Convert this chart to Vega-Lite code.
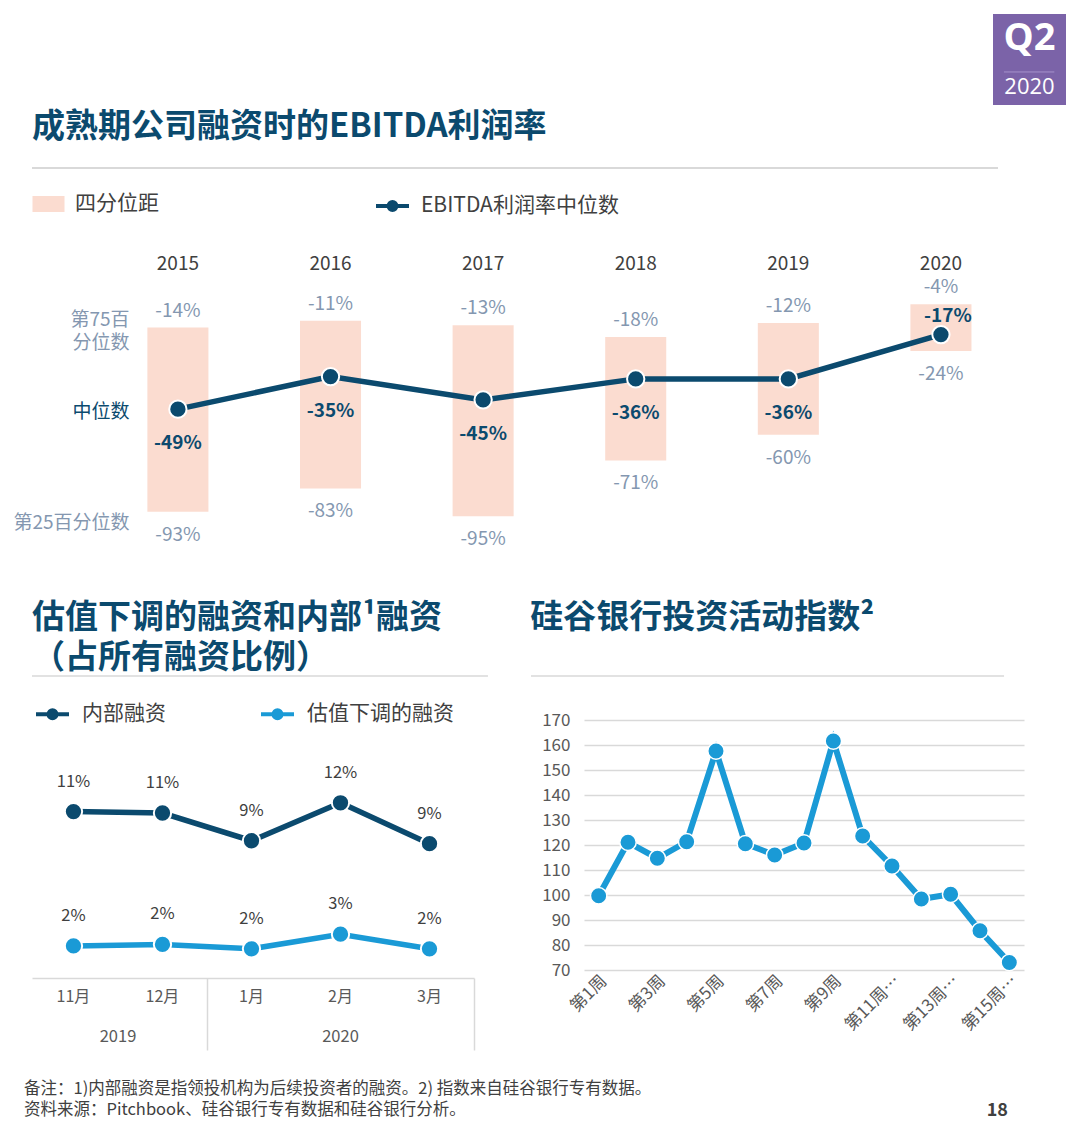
{
  "$schema": "https://vega.github.io/schema/vega-lite/v6.json",
  "background": "white",
  "padding": {"left": 12, "top": 14, "right": 0, "bottom": 0},
  "spacing": 0,
  "config": {
    "view": {"stroke": null},
    "font": "Noto Sans CJK SC",
    "locale": {"number": {"decimal": ".", "thousands": ",", "grouping": [3], "currency": ["", ""], "minus": "-"}}
  },
  "vconcat": [
    {
      "spacing": 0,
      "hconcat": [
        {"width": 961, "height": 97, "data": {"values": [{"a": 1}]}, "mark": {"type": "point", "opacity": 0}},
        {
          "width": 73,
          "height": 91,
          "view": {"fill": "#7b63a8", "stroke": null},
          "layer": [
            {
              "data": {"values": [{"a": 1}]},
              "mark": {"type": "rule", "color": "#a592cc", "strokeWidth": 1},
              "encoding": {
                "x": {"datum": 0.15, "type": "quantitative", "scale": {"domain": [0, 1]}, "axis": null},
                "x2": {"datum": 0.84},
                "y": {"datum": 0.363, "type": "quantitative", "scale": {"domain": [0, 1]}, "axis": null}
              }
            },
            {
              "data": {"values": [{"label": "Q2"}]},
              "mark": {"type": "text", "color": "white", "font": "Open Sans", "fontSize": 38, "fontWeight": "bold", "dy": -21},
              "encoding": {"text": {"field": "label"}}
            },
            {
              "data": {"values": [{"label": "2020"}]},
              "mark": {"type": "text", "color": "white", "font": "Open Sans", "fontSize": 22, "dy": 27},
              "encoding": {"text": {"field": "label"}}
            }
          ]
        }
      ]
    },
    {
      "width": 966,
      "height": 307,
      "title": {"text": "成熟期公司融资时的EBITDA利润率", "anchor": "start", "frame": "group", "fontSize": 33, "fontWeight": "bold", "color": "#0b4a6e", "offset": 23},
      "data": {
        "values": [
          {"year": "2015", "q75": -0.14, "median": -0.49, "q25": -0.93},
          {"year": "2016", "q75": -0.11, "median": -0.35, "q25": -0.83},
          {"year": "2017", "q75": -0.13, "median": -0.45, "q25": -0.95},
          {"year": "2018", "q75": -0.18, "median": -0.36, "q25": -0.71},
          {"year": "2019", "q75": -0.12, "median": -0.36, "q25": -0.60},
          {"year": "2020", "q75": -0.04, "median": -0.17, "q25": -0.24}
        ]
      },
      "layer": [
        {
          "mark": {"type": "rule", "color": "#d9d9d9", "strokeWidth": 1.5},
          "encoding": {"y": {"datum": 0.545, "type": "quantitative"}}
        },
        {
          "mark": {"type": "bar"},
          "encoding": {
            "x": {
              "field": "year", "type": "nominal", "sort": null, "title": null,
              "scale": {"type": "band", "paddingInner": 0.6, "paddingOuter": 0.465, "align": 0.813},
              "axis": {"orient": "top", "domain": false, "ticks": false, "labelFontSize": 19, "labelColor": "#404040", "labelPadding": 22, "labelAngle": 0}
            },
            "y": {
              "field": "q75", "type": "quantitative", "title": null,
              "scale": {"domain": [-1.3176, 0], "nice": false, "zero": false},
              "axis": {
                "orient": "left",
                "values": [-0.107, -0.5, -0.975],
                "labelExpr": "datum.value > -0.3 ? ['第75百', '分位数'] : (datum.value > -0.7 ? '中位数' : '第25百分位数')",
                "domain": false, "ticks": false, "tickSize": 0, "grid": false,
                "labelPadding": -97, "labelAlign": "right", "labelBaseline": "middle",
                "labelFontSize": 19, "labelLineHeight": 23,
                "labelColor": {"condition": {"test": "datum.value == -0.5", "value": "#0b4a6e"}, "value": "#8497b0"},
                "labelOverlap": false, "labelBound": false, "labelFlush": false
              }
            },
            "y2": {"field": "q25"},
            "fill": {
              "datum": "四分位距",
              "scale": {"range": ["#fbdcd0"]},
              "legend": {
                "title": null, "orient": "none", "legendX": 0, "legendY": 173.5,
                "symbolType": "M-0.97,-0.485H0.97V0.485H-0.97Z", "symbolSize": 1089, "symbolStrokeWidth": 0,
                "labelFontSize": 21, "labelColor": "#404040", "labelOffset": 10, "labelLimit": 300
              }
            }
          }
        },
        {
          "mark": {"type": "line", "strokeWidth": 5.5},
          "encoding": {
            "x": {"field": "year", "type": "nominal", "sort": null, "title": null},
            "y": {"field": "median", "type": "quantitative", "title": null},
            "stroke": {
              "datum": "EBITDA利润率中位数",
              "scale": {"range": ["#0b4a6e"]},
              "legend": {
                "title": null, "orient": "none", "legendX": 342, "legendY": 173.5,
                "symbolType": "M-1,0H1M-0.24,0A0.24,0.24 0 1,0 0.24,0A0.24,0.24 0 1,0 -0.24,0",
                "symbolSize": 1089, "symbolStrokeWidth": 4, "symbolFillColor": "#0b4a6e",
                "labelFontSize": 21, "labelColor": "#404040", "labelOffset": 10, "labelLimit": 300
              }
            }
          }
        },
        {
          "mark": {"type": "point", "filled": true, "size": 300, "color": "#0b4a6e", "stroke": "white", "strokeWidth": 2, "opacity": 1},
          "encoding": {
            "x": {"field": "year", "type": "nominal", "sort": null, "title": null},
            "y": {"field": "median", "type": "quantitative", "title": null}
          }
        },
        {
          "mark": {"type": "text", "dy": -17, "fontSize": 19, "color": "#8497b0"},
          "encoding": {
            "x": {"field": "year", "type": "nominal", "sort": null, "title": null},
            "y": {"field": "q75", "type": "quantitative", "title": null},
            "text": {"field": "q75", "format": ".0%"}
          }
        },
        {
          "mark": {"type": "text", "dy": 23, "fontSize": 19, "color": "#8497b0"},
          "encoding": {
            "x": {"field": "year", "type": "nominal", "sort": null, "title": null},
            "y": {"field": "q25", "type": "quantitative", "title": null},
            "text": {"field": "q25", "format": ".0%"}
          }
        },
        {
          "transform": [{"filter": "datum.year != '2020'"}],
          "mark": {"type": "text", "dy": 34, "fontSize": 19, "fontWeight": "bold", "color": "#0b4a6e"},
          "encoding": {
            "x": {"field": "year", "type": "nominal", "sort": null, "title": null},
            "y": {"field": "median", "type": "quantitative", "title": null},
            "text": {"field": "median", "format": ".0%"}
          }
        },
        {
          "transform": [{"filter": "datum.year == '2020'"}],
          "mark": {"type": "text", "dy": -19, "dx": 7, "fontSize": 19, "fontWeight": "bold", "color": "#0b4a6e"},
          "encoding": {
            "x": {"field": "year", "type": "nominal", "sort": null, "title": null},
            "y": {"field": "median", "type": "quantitative", "title": null},
            "text": {"field": "median", "format": ".0%"}
          }
        }
      ]
    },
    {
      "spacing": 41,
      "hconcat": [
        {
          "width": 442,
          "height": 258,
          "title": {"text": ["估值下调的融资和内部¹融资", "（占所有融资比例）"], "anchor": "start", "frame": "group", "fontSize": 33, "fontWeight": "bold", "color": "#0b4a6e", "lineHeight": 40, "offset": 0},
          "data": {
            "values": [
              {"year": "2019", "month": "11月", "idx": 0, "series": "内部融资", "value": 0.114},
              {"year": "2019", "month": "12月", "idx": 1, "series": "内部融资", "value": 0.113},
              {"year": "2020", "month": "1月", "idx": 2, "series": "内部融资", "value": 0.094},
              {"year": "2020", "month": "2月", "idx": 3, "series": "内部融资", "value": 0.120},
              {"year": "2020", "month": "3月", "idx": 4, "series": "内部融资", "value": 0.092},
              {"year": "2019", "month": "11月", "idx": 0, "series": "估值下调的融资", "value": 0.022},
              {"year": "2019", "month": "12月", "idx": 1, "series": "估值下调的融资", "value": 0.023},
              {"year": "2020", "month": "1月", "idx": 2, "series": "估值下调的融资", "value": 0.020},
              {"year": "2020", "month": "2月", "idx": 3, "series": "估值下调的融资", "value": 0.030},
              {"year": "2020", "month": "3月", "idx": 4, "series": "估值下调的融资", "value": 0.020}
            ]
          },
          "layer": [
            {
              "data": {"values": [{"a": 1}]},
              "mark": {"type": "rule", "color": "#d9d9d9", "strokeWidth": 1.5},
              "encoding": {
                "x": {"datum": -0.466, "type": "quantitative", "title": null},
                "x2": {"datum": 4.657},
                "y": {"datum": 0.2068, "type": "quantitative", "axis": null}
              }
            },
            {
              "mark": {"type": "line", "strokeWidth": 5.5},
              "encoding": {
                "x": {
                  "field": "idx", "type": "quantitative", "title": null,
                  "scale": {"domain": [-0.466, 4.5], "nice": false, "zero": false},
                  "axis": {"values": [-0.5, 1.5, 4.5], "labels": false, "ticks": true, "tickSize": 72, "tickColor": "#d9d9d9", "tickWidth": 1.5, "domainColor": "#d9d9d9", "domainWidth": 1.5, "grid": false}
                },
                "y": {"field": "value", "type": "quantitative", "title": null, "scale": {"domain": [0, 0.1767], "nice": false}, "axis": null},
                "color": {
                  "field": "series", "type": "nominal", "sort": null,
                  "scale": {"domain": ["内部融资", "估值下调的融资"], "range": ["#0b4a6e", "#1a9ad6"]},
                  "legend": {
                    "title": null, "orient": "none", "legendX": 2, "legendY": 681.5, "direction": "horizontal",
                    "symbolSize": 1089, "symbolType": "M-1,0H1M-0.24,0A0.24,0.24 0 1,0 0.24,0A0.24,0.24 0 1,0 -0.24,0",
                    "symbolStrokeWidth": 4,
                    "labelFontSize": 21, "labelColor": "#404040", "labelOffset": 11, "columnPadding": 87, "labelLimit": 300
                  }
                }
              }
            },
            {
              "mark": {"type": "point", "filled": true, "size": 300, "stroke": "white", "strokeWidth": 2, "opacity": 1},
              "encoding": {
                "x": {"field": "idx", "type": "quantitative", "title": null},
                "y": {"field": "value", "type": "quantitative", "title": null, "axis": null},
                "color": {"field": "series", "type": "nominal", "sort": null}
              }
            },
            {
              "mark": {"type": "text", "dy": -30, "fontSize": 16.5, "color": "#404040"},
              "encoding": {
                "x": {"field": "idx", "type": "quantitative", "title": null},
                "y": {"field": "value", "type": "quantitative", "title": null, "axis": null},
                "text": {"field": "value", "format": ".0%"}
              }
            },
            {
              "transform": [{"filter": "datum.series == '内部融资'"}],
              "mark": {"type": "text", "fontSize": 16, "color": "#595959"},
              "encoding": {
                "x": {"field": "idx", "type": "quantitative", "title": null},
                "y": {"datum": -0.013, "type": "quantitative", "axis": null},
                "text": {"field": "month"}
              }
            },
            {
              "transform": [
                {"filter": "datum.series == '内部融资'"},
                {"aggregate": [{"op": "mean", "field": "idx", "as": "center"}], "groupby": ["year"]}
              ],
              "mark": {"type": "text", "fontSize": 16.5, "color": "#595959"},
              "encoding": {
                "x": {"field": "center", "type": "quantitative", "title": null},
                "y": {"datum": -0.0404, "type": "quantitative", "axis": null},
                "text": {"field": "year"}
              }
            }
          ]
        },
        {
          "width": 440,
          "height": 250,
          "title": {"text": "硅谷银行投资活动指数²", "anchor": "start", "frame": "bounds", "fontSize": 33, "fontWeight": "bold", "color": "#0b4a6e", "offset": 40},
          "data": {
            "values": [
              {"week": 1, "index": 99.7},
              {"week": 2, "index": 121.1},
              {"week": 3, "index": 114.7},
              {"week": 4, "index": 121.3},
              {"week": 5, "index": 157.6},
              {"week": 6, "index": 120.5},
              {"week": 7, "index": 116.0},
              {"week": 8, "index": 120.8},
              {"week": 9, "index": 161.6},
              {"week": 10, "index": 123.6},
              {"week": 11, "index": 111.6},
              {"week": 12, "index": 98.4},
              {"week": 13, "index": 100.3},
              {"week": 14, "index": 85.7},
              {"week": 15, "index": 73.0}
            ]
          },
          "layer": [
            {
              "data": {"values": [{"a": 1}]},
              "mark": {"type": "rule", "color": "#d9d9d9", "strokeWidth": 1.5},
              "encoding": {
                "x": {"datum": -1.307, "type": "quantitative", "title": null},
                "x2": {"datum": 14.82},
                "y": {"datum": 187.6, "type": "quantitative", "title": null}
              }
            },
            {
              "mark": {"type": "line", "color": "#1a9ad6", "strokeWidth": 6},
              "encoding": {
                "x": {
                  "field": "week", "type": "quantitative", "title": null,
                  "scale": {"domain": [0.5, 15.5], "nice": false, "zero": false},
                  "axis": {
                    "values": [1, 3, 5, 7, 9, 11, 13, 15],
                    "labelExpr": "'第' + datum.value + '周' + (datum.value >= 11 ? '…' : '')",
                    "labelAngle": -45, "labelAlign": "right", "labelBaseline": "middle",
                    "labelFontSize": 17, "labelColor": "#595959", "labelPadding": 8, "labelOffset": 5,
                    "labelOverlap": false, "labelBound": false, "labelFlush": false,
                    "domain": false, "ticks": false, "tickSize": 0, "grid": false
                  }
                },
                "y": {
                  "field": "index", "type": "quantitative", "title": null,
                  "scale": {"domain": [70, 170], "nice": false, "zero": false},
                  "axis": {
                    "values": [70, 80, 90, 100, 110, 120, 130, 140, 150, 160, 170],
                    "tickCount": 11,
                    "domain": false, "ticks": false, "tickSize": 0,
                    "grid": true, "gridColor": "#d9d9d9", "gridWidth": 1.5,
                    "labelFontSize": 17, "labelColor": "#595959", "labelPadding": 14,
                    "labelOverlap": false
                  }
                }
              }
            },
            {
              "mark": {"type": "point", "filled": true, "size": 270, "color": "#1a9ad6", "stroke": "white", "strokeWidth": 1.5, "opacity": 1},
              "encoding": {
                "x": {"field": "week", "type": "quantitative", "title": null},
                "y": {"field": "index", "type": "quantitative", "title": null}
              }
            }
          ]
        }
      ]
    },
    {
      "spacing": 20,
      "hconcat": [
        {
          "width": 926,
          "height": 26,
          "data": {"values": [{"a": 1}]},
          "mark": {"type": "point", "opacity": 0},
          "title": {
            "text": ["备注：1)内部融资是指领投机构为后续投资者的融资。2) 指数来自硅谷银行专有数据。", "资料来源：Pitchbook、硅谷银行专有数据和硅谷银行分析。"],
            "orient": "bottom", "anchor": "start", "frame": "group", "fontSize": 16.5, "fontWeight": "normal", "lineHeight": 21, "color": "#404040", "offset": 4, "dx": -8
          }
        },
        {
          "width": 30,
          "height": 26,
          "data": {"values": [{"a": 1}]},
          "mark": {"type": "point", "opacity": 0},
          "title": {"text": "18", "orient": "bottom", "anchor": "end", "frame": "group", "fontSize": 18, "fontWeight": "bold", "color": "#404040", "offset": 25}
        }
      ]
    }
  ]
}
